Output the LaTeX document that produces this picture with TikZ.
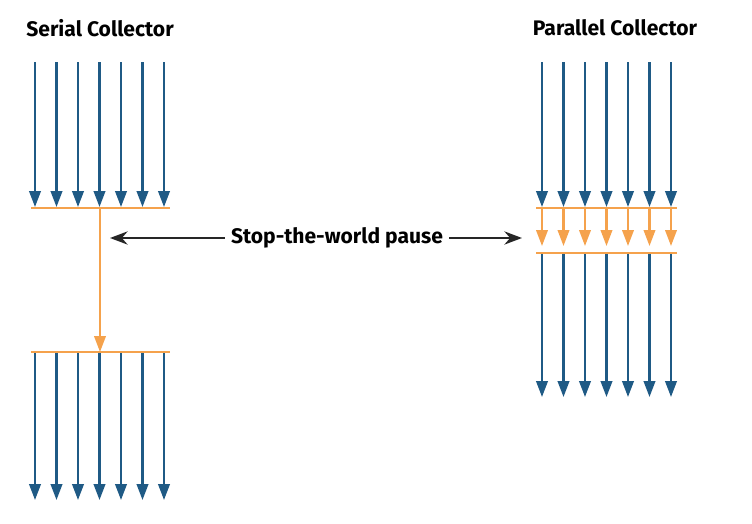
\documentclass[tikz,border=0pt]{standalone}
\usepackage{fontspec}
\setmainfont{Fira Sans}
\usepackage{xcolor}
\usepackage{tikz}
\usetikzlibrary{positioning, arrows.meta}
\definecolor{gcblue}{HTML}{1F5A85}
\definecolor{gcorange}{HTML}{F5A24C}

\begin{document}
\begin{tikzpicture}[
  x=0.02cm, y=-0.02cm,
  thread/.style={draw=gcblue, line width=1.3pt,
    -{Triangle[length=9pt, width=6.5pt]}},
  gcthread/.style={draw=gcorange, line width=1.2pt,
    -{Triangle[length=9pt, width=6.5pt]}},
  safepoint/.style={draw=gcorange, line width=1.2pt},
  title/.style={font=\bfseries\large},
  arr/.style={-{Stealth[length=10pt, width=7.5pt]}, line width=1.3pt, color=black!85},
]
\useasboundingbox (0,0) rectangle (752,524);

% Titres
\node[title] (serial) at (100,28) {Serial Collector};
\node[title] (parallel) at (615,28) {Parallel Collector};

% Serial collector
\coordinate (sstopL) at (31,208);
\coordinate (sstopR) at (170,208);
\coordinate (sgoL) at (31,352);
\coordinate (sgoR) at (170,352);
\coordinate (sgcA) at (100,208);
\coordinate (sgcB) at (100,352);
\foreach \i in {0,...,6} {
  \pgfmathsetmacro{\xx}{35+21.5*\i}
  \coordinate (sa\i) at (\xx,62);
  \coordinate (sb\i) at (\xx,207);
  \coordinate (sc\i) at (\xx,352);
  \coordinate (sd\i) at (\xx,500);
  \draw[thread] (sa\i) -- (sb\i);
  \draw[thread] (sc\i) -- (sd\i);
}
\draw[safepoint] (sstopL) -- (sstopR);
\draw[safepoint] (sgoL) -- (sgoR);
\draw[gcthread] (sgcA) -- (sgcB);

% Parallel collector
\coordinate (pstopL) at (536,208);
\coordinate (pstopR) at (677,208);
\coordinate (pgoL) at (536,253);
\coordinate (pgoR) at (677,253);
\foreach \i in {0,...,6} {
  \pgfmathsetmacro{\xx}{542+21.5*\i}
  \coordinate (pa\i) at (\xx,62);
  \coordinate (pb\i) at (\xx,207);
  \coordinate (pc\i) at (\xx,208);
  \coordinate (pd\i) at (\xx,246);
  \coordinate (pe\i) at (\xx,253);
  \coordinate (pf\i) at (\xx,397);
  \draw[thread] (pa\i) -- (pb\i);
  \draw[gcthread] (pc\i) -- (pd\i);
  \draw[thread] (pe\i) -- (pf\i);
}
\draw[safepoint] (pstopL) -- (pstopR);
\draw[safepoint] (pgoL) -- (pgoR);

% Pause
\node[title] (stw) at (337,238) {Stop-the-world pause};
\coordinate (stwL) at (110,238);
\coordinate (stwR) at (522,238);
\draw[arr] (stw.west) -- (stwL);
\draw[arr] (stw.east) -- (stwR);

\end{tikzpicture}
\end{document}
